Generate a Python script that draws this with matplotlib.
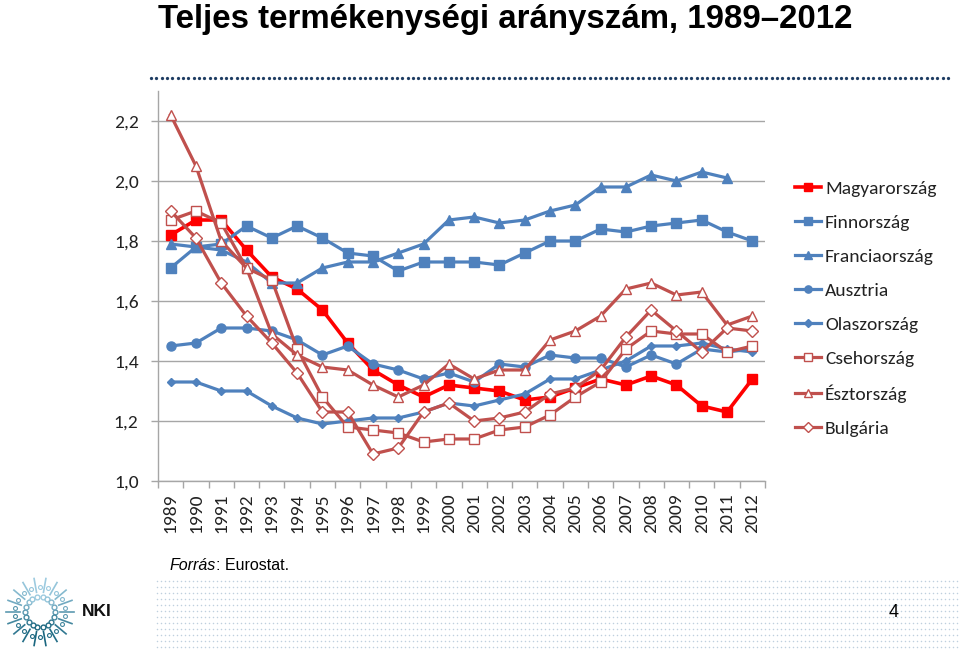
import matplotlib
matplotlib.use("Agg")
import matplotlib.pyplot as plt
import numpy as np
from matplotlib import font_manager

names = {f.name for f in font_manager.fontManager.ttflist}
NARROW = "Liberation Sans Narrow" if "Liberation Sans Narrow" in names else "Liberation Sans"
TITLE_SIZE = 25 if NARROW == "Liberation Sans Narrow" else 23.8
BODY = "Carlito" if "Carlito" in names else "Lato"

years = list(range(1989, 2013))
year_labels = [str(y) for y in years]

magyarorszag = [1.82, 1.87, 1.87, 1.77, 1.68, 1.64, 1.57, 1.46, 1.37, 1.32, 1.28, 1.32,
                1.31, 1.30, 1.27, 1.28, 1.31, 1.34, 1.32, 1.35, 1.32, 1.25, 1.23, 1.34]
finnorszag = [1.71, 1.78, 1.79, 1.85, 1.81, 1.85, 1.81, 1.76, 1.75, 1.70, 1.73, 1.73,
              1.73, 1.72, 1.76, 1.80, 1.80, 1.84, 1.83, 1.85, 1.86, 1.87, 1.83, 1.80]
franciaorszag = [1.79, 1.78, 1.77, 1.73, 1.66, 1.66, 1.71, 1.73, 1.73, 1.76, 1.79, 1.87,
                 1.88, 1.86, 1.87, 1.90, 1.92, 1.98, 1.98, 2.02, 2.00, 2.03, 2.01, np.nan]
ausztria = [1.45, 1.46, 1.51, 1.51, 1.50, 1.47, 1.42, 1.45, 1.39, 1.37, 1.34, 1.36,
            1.33, 1.39, 1.38, 1.42, 1.41, 1.41, 1.38, 1.42, 1.39, 1.44, 1.43, 1.44]
olaszorszag = [1.33, 1.33, 1.30, 1.30, 1.25, 1.21, 1.19, 1.20, 1.21, 1.21, 1.23, 1.26,
               1.25, 1.27, 1.29, 1.34, 1.34, 1.37, 1.40, 1.45, 1.45, 1.46, 1.44, 1.43]
csehorszag = [1.87, 1.90, 1.86, 1.71, 1.67, 1.44, 1.28, 1.18, 1.17, 1.16, 1.13, 1.14,
              1.14, 1.17, 1.18, 1.22, 1.28, 1.33, 1.44, 1.50, 1.49, 1.49, 1.43, 1.45]
esztorszag = [2.22, 2.05, 1.80, 1.71, 1.49, 1.42, 1.38, 1.37, 1.32, 1.28, 1.32, 1.39,
              1.34, 1.37, 1.37, 1.47, 1.50, 1.55, 1.64, 1.66, 1.62, 1.63, 1.52, 1.55]
bulgaria = [1.90, 1.81, 1.66, 1.55, 1.46, 1.36, 1.23, 1.23, 1.09, 1.11, 1.23, 1.26,
            1.20, 1.21, 1.23, 1.29, 1.31, 1.37, 1.48, 1.57, 1.50, 1.43, 1.51, 1.50]

y_ticks = [1.0, 1.2, 1.4, 1.6, 1.8, 2.0, 2.2]

RED = "#FF0000"
BLUE = "#4F81BD"
DRED = "#C0504D"

series = [
    ("Magyarország", magyarorszag, dict(color=RED, lw=2.6, marker="s", ms=7.5, mfc=RED, mec=RED)),
    ("Finnország", finnorszag, dict(color=BLUE, lw=2.3, marker="s", ms=6.5, mfc=BLUE, mec=BLUE)),
    ("Franciaország", franciaorszag, dict(color=BLUE, lw=2.3, marker="^", ms=7, mfc=BLUE, mec=BLUE)),
    ("Ausztria", ausztria, dict(color=BLUE, lw=2.3, marker="o", ms=6.5, mfc=BLUE, mec=BLUE)),
    ("Olaszország", olaszorszag, dict(color=BLUE, lw=2.3, marker="D", ms=4.5, mfc=BLUE, mec=BLUE)),
    ("Csehország", csehorszag, dict(color=DRED, lw=2.3, marker="s", ms=6.5, mfc="white", mec=DRED, mew=1.0)),
    ("Észtország", esztorszag, dict(color=DRED, lw=2.3, marker="^", ms=7, mfc="white", mec=DRED, mew=1.0)),
    ("Bulgária", bulgaria, dict(color=DRED, lw=2.3, marker="D", ms=6.5, mfc="white", mec=DRED, mew=1.0)),
]

W, H = 959, 650
fig = plt.figure(figsize=(W / 100, H / 100), dpi=100)
fig.patch.set_facecolor("white")


def fx(px):
    return px / W


def fy(py):
    return 1 - py / H


# background decorations (dots, logo)
bg = fig.add_axes([0, 0, 1, 1], zorder=0)
bg.set_xlim(0, W)
bg.set_ylim(H, 0)
bg.axis("off")

# light dotted footer pattern
gx = np.arange(157, 959, 4.0)
gy = np.arange(581, 648, 6.0)
GX, GY = np.meshgrid(gx, gy)
bg.scatter(GX.ravel(), GY.ravel(), s=1.2, color="#BFD0DE", linewidths=0)

# navy dotted separator
dx = np.arange(151, 953, 5.35)
bg.scatter(dx, np.full_like(dx, 78.0), s=5.5, color="#1F3D63", linewidths=0)

# logo approximation
cx, cy = 40, 612
n = 18
for i in range(n):
    ang = 2 * np.pi * i / n
    t = (np.sin(ang) + 1) / 2
    col = plt.cm.colors.to_hex(np.array([0.62, 0.80, 0.88]) * (1 - t) + np.array([0.10, 0.40, 0.50]) * t)
    r0, r1 = 20, 34
    bg.plot([cx + r0 * np.cos(ang), cx + r1 * np.cos(ang)],
            [cy + r0 * np.sin(ang), cy + r1 * np.sin(ang)], color=col, lw=1.2)
    bg.scatter([cx + 15 * np.cos(ang)], [cy + 15 * np.sin(ang)], s=12, facecolor="white",
               edgecolor=col, linewidths=1.0)
    bg.scatter([cx + 25 * np.cos(ang + 0.17)], [cy + 25 * np.sin(ang + 0.17)], s=8, facecolor="white",
               edgecolor=col, linewidths=0.8)
fig.text(fx(82), fy(611), "NKI", fontfamily=NARROW, fontweight="bold", fontsize=12.5,
         color="#111111", va="center", ha="left")

# main chart
ax = fig.add_axes([fx(158), fy(481), fx(765) - fx(158), fy(91) - fy(481)], zorder=2)
x = np.arange(len(years))
for label, vals, st in series:
    ax.plot(x, vals, label=label, **st)

ax.set_xlim(-0.5, len(years) - 0.5)
ax.set_ylim(1.0, 2.3)
ax.set_yticks(y_ticks)
ax.set_yticklabels([f"{v:.1f}".replace(".", ",") for v in y_ticks], fontfamily=BODY, fontsize=14)
ax.yaxis.grid(True, color="#A6A6A6", lw=1.0)
ax.set_axisbelow(True)
ax.tick_params(axis="y", length=5, width=1, color="#A6A6A6", pad=9, labelcolor="#222222")

ax.set_xticks(np.arange(-0.5, len(years), 1.0))
ax.set_xticklabels([])
ax.tick_params(axis="x", which="major", length=5, width=1, color="#A6A6A6")
ax.set_xticks(x, minor=True)
ax.set_xticklabels(year_labels, minor=True, rotation=90, fontfamily=BODY, fontsize=14, color="#222222")
ax.tick_params(axis="x", which="minor", length=0, pad=9)

for s in ["top", "right"]:
    ax.spines[s].set_visible(False)
for s in ["left", "bottom"]:
    ax.spines[s].set_color("#A6A6A6")
    ax.spines[s].set_linewidth(1.0)

leg = fig.legend(loc="upper left", bbox_to_anchor=(fx(795), fy(180)), frameon=False,
                 prop={"family": BODY, "size": 14}, labelspacing=0.9, handlelength=1.34,
                 handletextpad=0.2, borderpad=0, borderaxespad=0, markerscale=0.8)
for t in leg.get_texts():
    t.set_color("#222222")

# title
fig.text(fx(505), fy(28), "Teljes termékenységi arányszám, 1989–2012", fontfamily=NARROW,
         fontweight="bold", fontsize=TITLE_SIZE, ha="center", va="baseline", color="black")

# source
t1 = fig.text(fx(170), fy(570), "Forrás", fontfamily="Liberation Sans", fontstyle="italic",
              fontsize=11.5, ha="left", va="baseline")
fig.canvas.draw()
bb = t1.get_window_extent()
fig.text(bb.x1 / W, fy(570), ": Eurostat.", fontfamily="Liberation Sans", fontsize=11.5,
         ha="left", va="baseline")

# page number
fig.text(fx(894), fy(617), "4", fontfamily="Liberation Sans", fontsize=13, ha="center", va="baseline")

fig.savefig("out.png", dpi=100, facecolor="white")
